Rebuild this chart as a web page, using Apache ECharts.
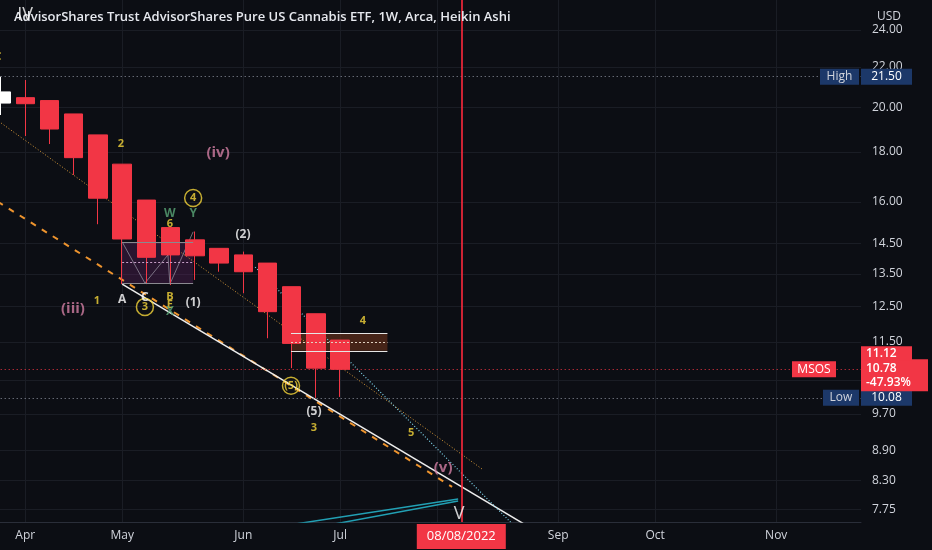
<!DOCTYPE html>
<html>
<head>
<meta charset="utf-8">
<title>MSOS 1W Heikin Ashi</title>
<script src="https://cdn.jsdelivr.net/npm/echarts@6/dist/echarts.min.js"></script>
<style>
  html, body { margin: 0; padding: 0; background: #0c0e14; }
  #chart { width: 932px; height: 550px; }
</style>
</head>
<body>
<div id="chart"></div>
<script>
// weekly bars (Monday of each week)
const weeks = [
  '2022-03-21', '2022-03-28', '2022-04-04', '2022-04-11', '2022-04-18', '2022-04-25',
  '2022-05-02', '2022-05-09', '2022-05-16', '2022-05-23', '2022-05-30',
  '2022-06-06', '2022-06-13', '2022-06-20', '2022-06-27',
  '2022-07-04', '2022-07-11', '2022-07-18', '2022-07-25',
  '2022-08-01', '2022-08-08', '2022-08-15', '2022-08-22', '2022-08-29',
  '2022-09-05', '2022-09-12', '2022-09-19', '2022-09-26',
  '2022-10-03', '2022-10-10', '2022-10-17', '2022-10-24', '2022-10-31',
  '2022-11-07', '2022-11-14', '2022-11-21', '2022-11-28'
];

// Heikin Ashi bars: [open, close, low, high]
const bars = [
  ['-', '-', '-', '-'],
  [20.20, 20.74, 19.64, 21.50],
  [20.46, 20.17, 18.69, 21.33],
  [20.32, 19.00, 18.34, 20.32],
  [19.69, 17.76, 17.05, 19.69],
  [18.74, 16.14, 15.18, 18.74],
  [17.49, 14.66, 13.18, 17.49],
  [16.07, 14.04, 13.18, 16.07],
  [15.06, 14.12, 13.15, 15.06],
  [14.63, 14.09, 13.31, 14.92],
  [14.34, 13.85, 13.57, 14.34],
  [14.12, 13.57, 12.90, 14.23],
  [13.85, 12.35, 11.60, 13.85],
  [13.10, 11.46, 10.81, 13.10],
  [12.29, 10.81, 10.08, 12.29],
  [11.55, 10.78, 10.10, 11.55]
];

const priceTicks = [7.75, 8.3, 8.9, 9.7, 10.5, 11.5, 12.5, 13.5, 14.5, 16, 18, 20, 22, 24];
const monthTicks = [2, 6, 11, 15, 19, 24, 28, 33];
const monthNames = ['Apr', 'May', 'Jun', 'Jul', 'Aug', 'Sep', 'Oct', 'Nov'];

const highPrice = 21.50;
const lowPrice = 10.08;
const lastClose = 10.78;
const lastOpen = 11.12;
const lastChange = '-47.93%';
const markerWeek = '2022-08-08';
const markerText = '08/08/2022';

// drawings: [week index, price]
const whiteTrend = [[6.0, 13.18], [23.2, 7.33]];
const orangeDashed = [[-0.5, 16.81], [19.62, 8.17]];
const orangeDotted = [[-0.5, 20.50], [20.86, 8.52]];
const cyanDotted = [[11.49, 13.72], [22.43, 7.35]];
const tealFanA = [[12.93, 7.47], [19.87, 7.94]];
const tealFanB = [[14.58, 7.47], [19.87, 7.90]];
const zigzag = [[6.0, 14.56], [6.94, 13.21], [7.89, 14.12], [7.97, 13.18], [8.93, 14.91]];

// boxes: [x1, x2, top, mid, bottom]
const purpleBox = [6.0, 8.93, 14.56, 13.89, 13.21];
const brownBox = [12.97, 16.95, 11.74, 11.50, 11.26];

// wave labels: [text, week index, price, kind]
const waveLabels = [
  ['IV', 1.99, 24.87, 'big'],
  ['C', 0.88, 22.52, 'minor'],
  ['2', 5.95, 18.34, 'minor'],
  ['(iv)', 9.96, 17.96, 'degree'],
  ['4', 8.93, 16.15, 'circled'],
  ['W', 7.97, 15.55, 'corr'],
  ['Y', 8.93, 15.55, 'corr'],
  ['6', 7.97, 15.19, 'minor'],
  ['(2)', 10.99, 14.80, 'wave'],
  ['1', 4.96, 12.67, 'minor'],
  ['A', 6.0, 12.70, 'wave'],
  ['C', 6.94, 12.76, 'wave'],
  ['3', 6.94, 12.49, 'circled'],
  ['B', 7.97, 12.79, 'minor'],
  ['E', 7.97, 12.55, 'minor'],
  ['X', 7.97, 12.34, 'corr'],
  ['(1)', 8.93, 12.61, 'wave'],
  ['(iii)', 3.97, 12.43, 'degree'],
  ['4', 15.94, 12.08, 'minor'],
  ['(5)', 12.97, 10.37, 'circled'],
  ['(5)', 13.92, 9.75, 'wave'],
  ['3', 13.92, 9.39, 'minor'],
  ['5', 17.93, 9.28, 'minor'],
  ['(v)', 19.25, 8.54, 'degree'],
  ['V', 19.91, 7.66, 'big']
];

const FONT = 'Open Sans, sans-serif';
const TEXT = '#d1d4dc';
const RED = '#f23645';
const BLUE_TAG = '#1c3869';
const CLEAR = 'rgba(0,0,0,0)';

const labelKinds = {
  big:     { color: '#ffffff', fontSize: 18, fontWeight: 'normal' },
  wave:    { color: '#ffffff', fontSize: 12, fontWeight: 'bold' },
  minor:   { color: '#f5d63a', fontSize: 11, fontWeight: 'bold' },
  degree:  { color: '#d27ea3', fontSize: 15, fontWeight: 'bold' },
  corr:    { color: '#5aa677', fontSize: 12, fontWeight: 'bold' },
  circled: { color: '#f5d63a', fontSize: 11, fontWeight: 'bold' }
};

function drawing(points, lineStyle) {
  return {
    type: 'line', xAxisIndex: 1, yAxisIndex: 0, data: points,
    symbol: 'none', silent: true, z: 3, lineStyle: lineStyle
  };
}

function boxLines(b, edge, mid) {
  return [
    [{ coord: [b[0], b[2]], lineStyle: edge }, { coord: [b[1], b[2]] }],
    [{ coord: [b[0], b[3]], lineStyle: mid }, { coord: [b[1], b[3]] }],
    [{ coord: [b[0], b[4]], lineStyle: edge }, { coord: [b[1], b[4]] }]
  ];
}

function levelTag(name, value, bg, nameWidth) {
  return {
    show: true, position: 'end', distance: 0, offset: [-(nameWidth + 12), 0],
    formatter: '{n|' + name + '}{g|}{v|' + value.toFixed(2) + '}',
    rich: {
      n: { backgroundColor: bg, color: TEXT, fontSize: 12, fontFamily: FONT, padding: [2, 5], width: nameWidth, align: 'center' },
      g: { width: 2 },
      v: { backgroundColor: bg, color: '#ffffff', fontSize: 12, fontFamily: FONT, padding: [2, 5], width: 41 }
    }
  };
}

const chart = echarts.init(document.getElementById('chart'), null, { renderer: 'canvas' });

const option = {
  backgroundColor: '#0c0e14',
  animation: false,
  title: [
    {
      text: 'AdvisorShares Trust AdvisorShares Pure US Cannabis ETF, 1W, Arca, Heikin Ashi',
      left: 9, top: 6,
      textStyle: { color: '#e6e8ee', fontSize: 13, fontWeight: 600, fontFamily: FONT }
    },
    {
      text: 'USD', left: 872, top: 6,
      textStyle: { color: TEXT, fontSize: 12, fontWeight: 'normal', fontFamily: FONT }
    }
  ],
  grid: { left: -35.3, right: 71, top: 0, bottom: 28, containLabel: false, outerBoundsMode: 'none' },
  xAxis: [
    {
      type: 'category', data: weeks, boundaryGap: true,
      axisLine: { show: true, lineStyle: { color: '#2a2e39' } },
      axisTick: { show: false }, axisLabel: { show: false }, splitLine: { show: false }
    },
    {
      type: 'value', min: -0.5, max: weeks.length - 0.5, position: 'bottom',
      axisLine: { show: false },
      axisTick: { show: false, customValues: monthTicks },
      axisLabel: {
        customValues: monthTicks, margin: 8, color: TEXT, fontSize: 12, fontFamily: FONT,
        formatter: v => monthNames[monthTicks.indexOf(v)]
      },
      splitLine: { show: true, lineStyle: { color: '#1a1d25', width: 1 } }
    }
  ],
  yAxis: {
    type: 'log', logBase: 10, min: 7.52, max: 25.76, position: 'right',
    axisLine: { show: true, lineStyle: { color: '#2a2e39' } },
    axisTick: { show: false, customValues: priceTicks },
    axisLabel: {
      customValues: priceTicks, margin: 11, color: TEXT, fontSize: 12, fontFamily: FONT,
      formatter: v => Number(v).toFixed(2)
    },
    splitLine: { show: true, lineStyle: { color: '#1a1d25', width: 1 } }
  },
  series: [
    {
      type: 'candlestick', name: 'MSOS', data: bars, barWidth: 19,
      xAxisIndex: 0, yAxisIndex: 0, z: 4,
      itemStyle: { color: '#ffffff', color0: RED, borderColor: '#ffffff', borderColor0: RED, borderWidth: 1 },
      markLine: {
        silent: true, symbol: ['none', 'none'], animation: false,
        data: [
          {
            yAxis: highPrice,
            lineStyle: { color: '#8f94a0', width: 1, type: [1, 3] },
            label: levelTag('High', highPrice, BLUE_TAG, 29)
          },
          {
            yAxis: lowPrice,
            lineStyle: { color: '#8f94a0', width: 1, type: [1, 3] },
            label: levelTag('Low', lowPrice, BLUE_TAG, 26)
          },
          {
            yAxis: lastClose,
            lineStyle: { color: RED, width: 1, type: [1, 3] },
            label: {
              show: true, position: 'end', distance: 0, offset: [-47, 0],
              formatter: 'MSOS', backgroundColor: RED, color: '#ffffff',
              fontSize: 12, fontFamily: FONT, padding: [2, 5], width: 34, align: 'center'
            }
          },
          {
            yAxis: lastClose,
            lineStyle: { color: CLEAR, width: 0 },
            label: {
              show: true, position: 'end', distance: 0, offset: [0, 6],
              formatter: lastClose.toFixed(2) + '\n' + lastChange, backgroundColor: RED, color: '#ffffff',
              fontSize: 12, lineHeight: 14, fontFamily: FONT, fontWeight: 600, padding: [2, 4, 2, 5], width: 58
            }
          },
          {
            yAxis: lastOpen,
            lineStyle: { color: CLEAR, width: 0 },
            label: {
              show: true, position: 'end', distance: 0, offset: [0, -3],
              formatter: '{p|' + lastOpen.toFixed(2) + '}',
              rich: {
                p: { backgroundColor: RED, color: '#ffffff', fontSize: 12, fontFamily: FONT, fontWeight: 600, padding: [1, 5], width: 41 }
              }
            }
          },
          {
            xAxis: markerWeek,
            lineStyle: { color: '#ff2a3c', width: 1.6, type: 'solid', opacity: 1 },
            label: {
              show: true, position: 'start', distance: 2,
              formatter: markerText, backgroundColor: RED, color: '#ffffff',
              fontSize: 13, lineHeight: 13, fontFamily: FONT, padding: [6, 10]
            }
          }
        ]
      }
    },
    // boxes
    {
      type: 'line', xAxisIndex: 1, yAxisIndex: 0, data: [], silent: true, z: 2,
      markArea: {
        silent: true,
        data: [
          [{ coord: [purpleBox[0], purpleBox[2]], itemStyle: { color: 'rgba(120,40,120,0.28)' } },
           { coord: [purpleBox[1], purpleBox[4]] }],
          [{ coord: [brownBox[0], brownBox[2]], itemStyle: { color: 'rgba(95,45,25,0.7)' } },
           { coord: [brownBox[1], brownBox[4]] }]
        ]
      },
      markLine: {
        silent: true, symbol: ['none', 'none'], label: { show: false },
        data: boxLines(purpleBox,
          { color: '#8a8a90', width: 1, type: 'solid' },
          { color: '#c9a0c9', width: 1, type: [2, 2] })
          .concat(boxLines(brownBox,
          { color: '#e6e6e6', width: 1, type: 'solid' },
          { color: '#e0d0c0', width: 1, type: [2, 2] }))
      }
    },
    drawing(zigzag, { color: 'rgba(190,190,200,0.55)', width: 1 }),
    drawing(orangeDotted, { color: '#d99a3a', width: 1, type: [1, 2] }),
    drawing(orangeDashed, { color: '#ee942e', width: 2, type: [6, 7] }),
    drawing(whiteTrend, { color: '#eeeeee', width: 1.5 }),
    drawing(cyanDotted, { color: '#7fd4ea', width: 1.2, type: [1, 2] }),
    drawing(tealFanA, { color: '#22a0b4', width: 1.5 }),
    drawing(tealFanB, { color: '#22a0b4', width: 1.5 }),
    // wave labels
    {
      type: 'scatter', xAxisIndex: 1, yAxisIndex: 0, silent: true, z: 6,
      data: waveLabels.map(w => {
        const k = labelKinds[w[3]];
        const circled = w[3] === 'circled';
        return {
          value: [w[1], w[2]],
          symbol: 'circle',
          symbolSize: circled ? 17 : 0,
          itemStyle: { color: CLEAR, borderColor: k.color, borderWidth: circled ? 1.5 : 0 },
          label: {
            show: true, position: 'inside', formatter: w[0],
            color: k.color, fontSize: k.fontSize, fontWeight: k.fontWeight, fontFamily: FONT
          }
        };
      })
    }
  ]
};

chart.setOption(option);
window.addEventListener('resize', () => chart.resize());
</script>
</body>
</html>
